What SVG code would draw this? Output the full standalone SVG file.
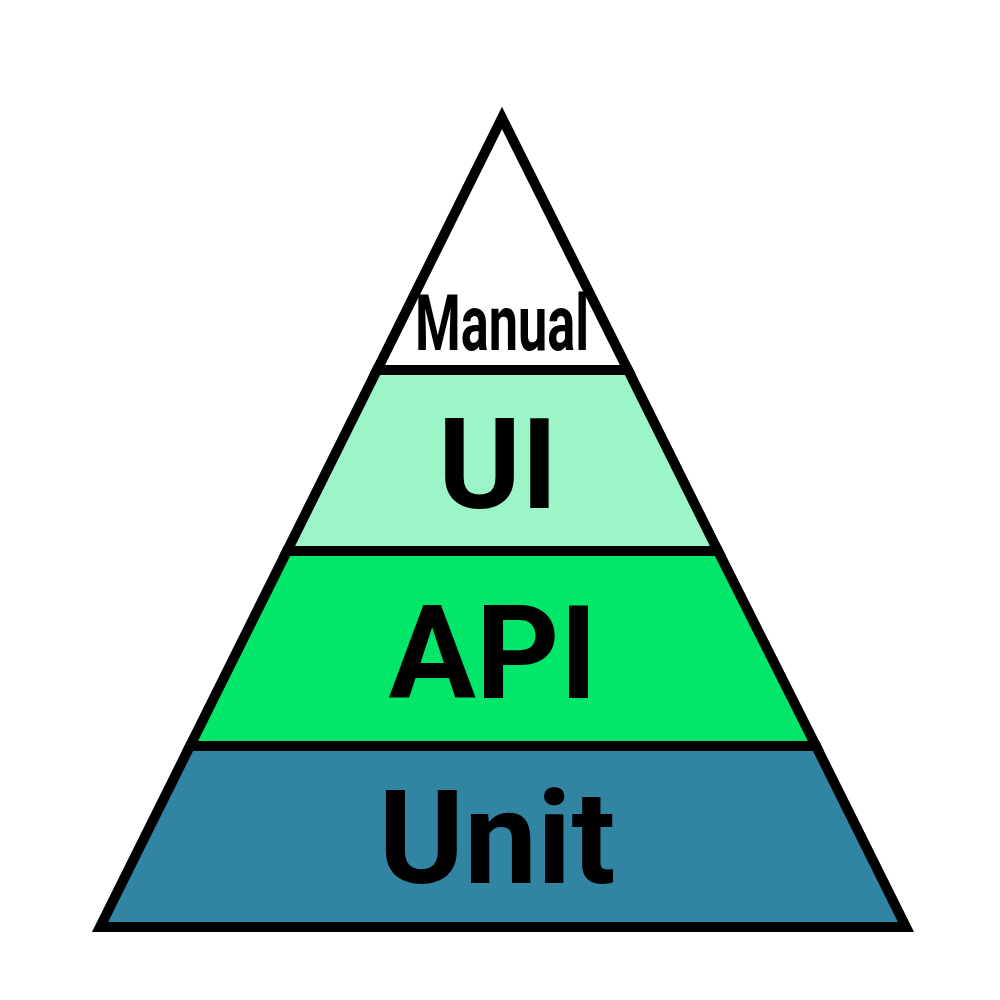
<svg xmlns="http://www.w3.org/2000/svg" width="1000" height="1000" viewBox="0 0 1000 1000">
<style>
.layer{stroke:#000;stroke-width:10;stroke-linejoin:miter;stroke-miterlimit:20}
.lbl{font-family:Roboto,"Liberation Sans",sans-serif;font-weight:bold;fill:#000;text-anchor:middle}
</style>
<rect width="1000" height="1000" fill="#fff"/>
<g id="unit">
<polygon class="layer" points="190,746 816,746 906,927 100,927" fill="#3185A3"/>
<text class="lbl" x="497" y="883" font-size="130">Unit</text>
</g>
<g id="api">
<polygon class="layer" points="287,551 718,551 816,746 190,746" fill="#02E76A"/>
<text class="lbl" x="493" y="698" font-size="130">API</text>
</g>
<g id="ui">
<polygon class="layer" points="377,370 628,370 718,551 287,551" fill="#9CF5C6"/>
<text class="lbl" x="498" y="508" font-size="126">UI</text>
</g>
<g id="manual">
<polygon class="layer" points="502,118 628,370 377,370" fill="#fff"/>
<text class="lbl" x="502" y="350" font-size="77" textLength="174" lengthAdjust="spacingAndGlyphs">Manual</text>
</g>
</svg>
